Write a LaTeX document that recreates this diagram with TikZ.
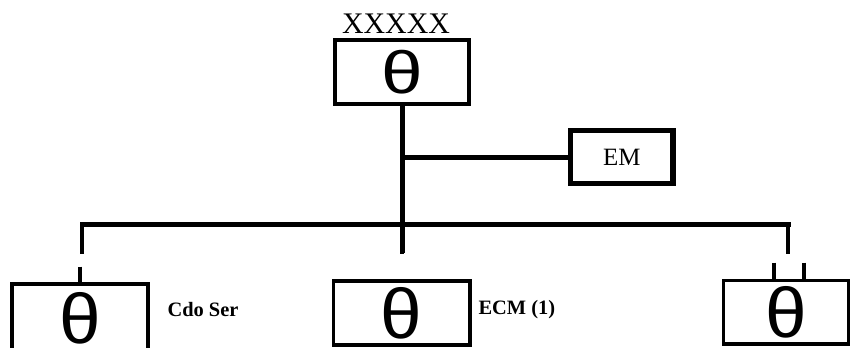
\documentclass[tikz,border=0pt]{standalone}
\usepackage{fontspec}
\setmainfont{Liberation Serif}
\newfontfamily\thetafont{Liberation Sans}

\newcommand{\bigtheta}{\raisebox{-3bp}{\scalebox{1.25}[1]{θ}}}
\newcommand{\talltheta}{\scalebox{1.25}[1.18]{θ}}

\begin{document}
\begin{tikzpicture}[x=1bp, y=-1bp,
                    box/.style= {rectangle,
                      draw,
                      line width=4bp,
                      inner sep=0pt,
                      font=\thetafont\fontsize{60}{60}\selectfont},
                    wire/.style={line width=5bp},
                    drop/.style={line width=4bp},
                    tag/.style={anchor=west,
                      font=\bfseries\fontsize{20.5}{24}\selectfont}]

  \useasboundingbox (0,0) rectangle (850,347);

  % top unit and its name
  \node[box, minimum width=134bp, minimum height=64.5bp] (main) at (402,71.75) {\bigtheta};
  \node[anchor=base, inner sep=0pt, font=\fontsize{30}{30}\selectfont] (name) at (396,33) {XXXXX};

  % side unit
  \node[box, line width=5.5bp, minimum width=102.5bp, minimum height=53bp,
        font=\fontsize{25}{25}\selectfont] (em) at (621.75,157) {EM};

  % lower units
  \node[box, minimum width=135.5bp, minimum height=68bp] (cdo) at (80.25,318) {\talltheta};
  \node[box, line width=3.5bp, minimum width=136.7bp, minimum height=64bp] (ecm) at (401.7,313) {\talltheta};
  \node[box, line width=3.5bp, minimum width=125.2bp, minimum height=63.5bp] (rgt) at (785.9,312.25) {\talltheta};

  \node[tag] (cdo label) at (164,310) {Cdo Ser};
  \node[tag] (ecm label) at (475,310) {ECM (1)};

  % trunk and bus
  \coordinate (trunk) at (402,253);
  \coordinate (busL) at (80,224);
  \coordinate (busR) at (790.5,224);
  \draw[wire] (main.south) -- (trunk);
  \draw[wire] (main.south |- em.west) -- (em.west);
  \draw[wire] (busL) -- (busR);

  % drops from the bus
  \coordinate (dropL) at (82,254);
  \coordinate (dropM) at (401.5,254);
  \coordinate (dropR) at (788,254);
  \draw[drop] (dropL |- busL) -- (dropL);
  \draw[drop] (dropM |- busL) -- (dropM);
  \draw[drop] (dropR |- busL) -- (dropR);

  % stubs on the units
  \coordinate (stubL) at (80,266.7);
  \coordinate (stubR1) at (774,262.7);
  \coordinate (stubR2) at (804,262.7);
  \draw[drop] (stubL) -- (stubL |- cdo.north);
  \draw[drop] (stubR1) -- (stubR1 |- rgt.north);
  \draw[drop] (stubR2) -- (stubR2 |- rgt.north);
\end{tikzpicture}
\end{document}
